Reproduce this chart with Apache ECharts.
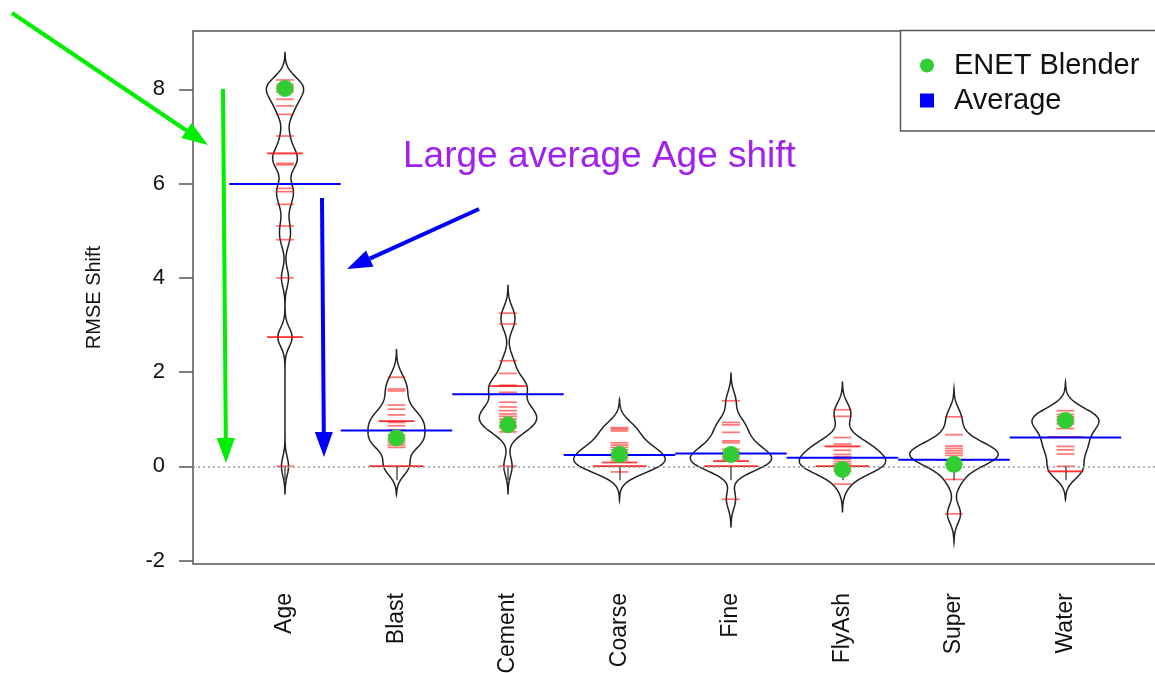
<!DOCTYPE html>
<html>
<head>
<meta charset="utf-8">
<script src="https://cdn.jsdelivr.net/npm/echarts@6/dist/echarts.min.js"></script>
<style>
html,body{margin:0;padding:0;background:#fff}
#chart{width:1155px;height:673px}
</style>
</head>
<body>
<div id="chart"></div>
<script>
// categories and values
const categories = ['Age', 'Blast', 'Cement', 'Coarse', 'Fine', 'FlyAsh', 'Super', 'Water'];
const enetBlender = [8.02, 0.60, 0.88, 0.25, 0.25, -0.07, 0.04, 0.97];
const averageShift = [5.99, 0.76, 1.53, 0.24, 0.27, 0.18, 0.14, 0.61];
const yTicks = [-2, 0, 2, 4, 6, 8];

// individual shifts (bean lines)
const ageShifts = [8.2, 8.1, 8.05, 8.0, 7.95, 7.79, 7.65, 7.47, 7.01, 6.64, 6.64, 6.43, 6.4, 5.9, 5.83, 5.56, 5.1, 4.81, 4.0, 2.74, 2.74, 0];
const blastShifts = [1.89, 1.64, 1.6, 1.3, 1.21, 1.09, 0.96, 0.96, 0.93, 0.86, 0.77, 0.66, 0.6, 0.55, 0.5, 0.45, 0.4, 0, 0, 0];
const cementShifts = [3.25, 3.02, 2.24, 1.97, 1.72, 1.7, 1.7, 1.57, 1.36, 1.26, 1.18, 1.11, 1.06, 1.0, 0.94, 0.86, 0.82, 0.73, 0];
const coarseShifts = [0.82, 0.79, 0.75, 0.5, 0.45, 0.4, 0.35, 0.28, 0.22, 0.17, 0.12, 0.08, 0.08, 0, 0, 0, -0.12];
const fineShifts = [1.39, 0.93, 0.88, 0.72, 0.54, 0.5, 0.36, 0.3, 0.25, 0.2, 0.15, 0.11, 0.11, 0, 0, 0, -0.7];
const flyAshShifts = [1.2, 1.06, 0.61, 0.47, 0.42, 0.42, 0.34, 0.25, 0.2, 0.15, 0.1, 0.05, 0, 0, 0, -0.05, -0.1, -0.38];
const superShifts = [1.05, 0.67, 0.43, 0.38, 0.33, 0.28, 0.23, 0.13, 0.13, 0.04, -0.28, -1.01];
const waterShifts = [1.18, 1.1, 1.05, 1.0, 0.95, 0.9, 0.8, 0.62, 0.62, 0.42, 0.35, 0.26, 0, -0.11, -0.11];

const beans = [ageShifts, blastShifts, cementShifts, coarseShifts, fineShifts, flyAshShifts, superShifts, waterShifts];

const bw = 0.2;          // kernel bandwidth
const maxHalf = 0.41;    // half width of the widest bean, x units
const lineLen = 0.16;    // bean line length per point

// gaussian kernel density for each bean
function kde(vals) {
	const lo = Math.min(...vals) - 3 * bw, hi = Math.max(...vals) + 3 * bw;
	const out = [];
	const steps = 160;
	for (let k = 0; k <= steps; k++) {
		const y = lo + (hi - lo) * k / steps;
		let s = 0;
		vals.forEach(v => { const z = (y - v) / bw; s += Math.exp(-0.5 * z * z); });
		out.push([y, s / (vals.length * bw * Math.sqrt(2 * Math.PI))]);
	}
	out[0][1] = 0; out[steps][1] = 0;
	return out;
}
const dens = beans.map(kde);
let maxD = 0;
dens.forEach(d => d.forEach(p => { if (p[1] > maxD) maxD = p[1]; }));

// one item per observation, with how many share the value
const beanLineData = [];
beans.forEach((vals, i) => {
	vals.forEach(v => {
		const cnt = vals.filter(w => w === v).length;
		beanLineData.push([i + 1, v, cnt]);
	});
});

function arrow(x1, y1, x2, y2, color, w, hl, hw) {
	const len = Math.hypot(x2 - x1, y2 - y1);
	const ux = (x2 - x1) / len, uy = (y2 - y1) / len;
	const bx = x2 - ux * hl, by = y2 - uy * hl;
	const nx = -uy, ny = ux;
	return [
		{ type: 'line', shape: { x1: x1, y1: y1, x2: bx, y2: by }, style: { stroke: color, lineWidth: w }, z: 50 },
		{ type: 'polygon', shape: { points: [[x2, y2], [bx + nx * hw / 2, by + ny * hw / 2], [bx - nx * hw / 2, by - ny * hw / 2]] }, style: { fill: color }, z: 50 }
	];
}

const font = '"Liberation Sans", Arial, Helvetica, sans-serif';
const chart = echarts.init(document.getElementById('chart'));

const option = {
	animation: false,
	textStyle: { fontFamily: font },
	grid: {
		left: 193, top: 31, width: 964, height: 533, outerBoundsMode: 'none', containLabel: false,
		show: true, borderColor: '#555', borderWidth: 1.5, backgroundColor: 'transparent'
	},
	xAxis: {
		type: 'value', min: 0.175, max: 8.821,
		splitLine: { show: false },
		axisLine: { show: false },
		axisTick: { show: true, length: 14, lineStyle: { color: '#555', width: 1.5 }, customValues: [1, 2, 3, 4, 5, 6, 7, 8] },
		axisLabel: {
			customValues: [1, 2, 3, 4, 5, 6, 7, 8], rotate: 90, margin: 29,
			fontSize: 23, color: '#111', fontFamily: font,
			formatter: v => categories[Math.round(v) - 1] || ''
		}
	},
	yAxis: {
		type: 'value', min: -2.075, max: 9.24,
		name: 'RMSE Shift', nameLocation: 'middle', nameGap: 89,
		nameTextStyle: { fontSize: 20, color: '#111', fontFamily: font },
		splitLine: { show: false },
		axisLine: { show: false },
		axisTick: { show: true, length: 14, lineStyle: { color: '#555', width: 1.5 }, customValues: yTicks },
		axisLabel: { customValues: yTicks, margin: 28, fontSize: 22, color: '#111', fontFamily: font }
	},
	legend: {
		orient: 'vertical', left: 915, top: 46,
		itemWidth: 14, itemHeight: 14, itemGap: 6,
		textStyle: { fontSize: 29, color: '#111', fontFamily: font, padding: [0, 0, 0, 15] },
		data: [{ name: 'ENET Blender', icon: 'circle' }, { name: 'Average', icon: 'rect' }]
	},
	graphic: [
		{ type: 'rect', shape: { x: 900.5, y: 30.5, width: 300, height: 100.5 }, style: { fill: '#fff', stroke: '#555', lineWidth: 1.5 }, z: 1 },
		{ type: 'text', x: 403, y: 157, style: { text: 'Large average Age shift', font: '37px ' + font, fill: '#A020F0', verticalAlign: 'middle' }, z: 50 }
	].concat(
		arrow(12, 13, 208, 145, '#00EE00', 4, 26, 18),
		arrow(223, 89, 226, 463, '#00EE00', 4, 25, 18),
		arrow(322, 198, 324, 457, '#0000FF', 4, 25, 18),
		arrow(479, 209, 347, 269, '#0000FF', 4, 25, 18)
	),
	series: [
		{
			name: 'bean', type: 'custom', silent: true, z: 2,
			data: categories.map((c, i) => [i + 1, averageShift[i]]),
			renderItem: (params, api) => {
				const i = params.dataIndex;
				const d = dens[i];
				const left = [], right = [];
				d.forEach(p => {
					const hw = p[1] / maxD * maxHalf;
					left.push(api.coord([i + 1 - hw, p[0]]));
					right.push(api.coord([i + 1 + hw, p[0]]));
				});
				return { type: 'polygon', shape: { points: left.concat(right.reverse()) }, style: { fill: 'none', stroke: '#222', lineWidth: 1.5 } };
			},
			markLine: {
				silent: true, symbol: ['none', 'none'], label: { show: false },
				lineStyle: { color: '#999', type: [2, 3], width: 1.5 },
				data: [{ yAxis: 0 }]
			}
		},
		{
			name: 'beanlines', type: 'custom', silent: true, z: 3,
			data: beanLineData,
			renderItem: (params, api) => {
				const x = api.value(0), y = api.value(1), c = api.value(2);
				const a = api.coord([x - lineLen * c / 2, y]);
				const b = api.coord([x + lineLen * c / 2, y]);
				return { type: 'line', shape: { x1: a[0], y1: a[1], x2: b[0], y2: b[1] }, style: { stroke: 'rgba(255,0,0,0.55)', lineWidth: 1.7 } };
			}
		},
		{
			name: 'Average', type: 'custom', silent: true, z: 4,
			itemStyle: { color: '#0000FF' },
			data: categories.map((c, i) => [i + 1, averageShift[i]]),
			renderItem: (params, api) => {
				const x = api.value(0), y = api.value(1);
				const a = api.coord([x - 0.5, y]);
				const b = api.coord([x + 0.5, y]);
				return { type: 'line', shape: { x1: a[0], y1: a[1], x2: b[0], y2: b[1] }, style: { stroke: '#0000FF', lineWidth: 2 } };
			}
		},
		{
			name: 'ENET Blender', type: 'scatter', z: 5,
			symbol: 'circle', symbolSize: 17,
			itemStyle: { color: '#32CD32', opacity: 1 },
			data: categories.map((c, i) => [i + 1, enetBlender[i]])
		}
	]
};
chart.setOption(option);
</script>
</body>
</html>
